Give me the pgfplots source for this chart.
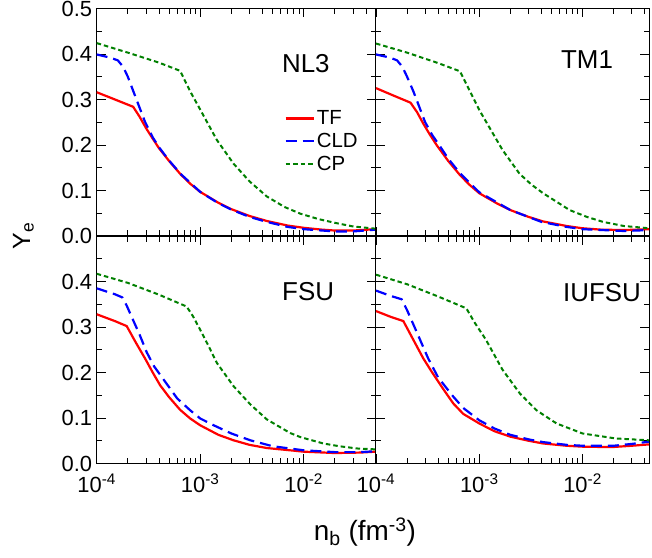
\documentclass[border=0pt]{standalone}
\usepackage{fontspec}
\setmainfont{Liberation Sans}
\usepackage{pgfplots}
\pgfplotsset{compat=1.18}

\definecolor{cpgreen}{RGB}{0,128,0}

\pgfplotsset{every axis/.append style={
    scale only axis, height=227.5bp, anchor=south west,
    xmode=log, xmin=1e-4,
    ymin=0, ymax=0.5,
    xtick={1e-4,1e-3,1e-2},
    minor xtick={2e-4,3e-4,4e-4,5e-4,6e-4,7e-4,8e-4,9e-4,2e-3,3e-3,4e-3,5e-3,6e-3,7e-3,8e-3,9e-3,2e-2,3e-2,4e-2},
    ytick={0,0.1,0.2,0.3,0.4,0.5},
    minor ytick={0.05,0.15,0.25,0.35,0.45},
    major tick length=9bp, minor tick length=5.5bp,
    tick style={black, line width=0.8bp},
    axis line style={line width=1bp},
    tick label style={font=\fontsize{22}{26}\selectfont},
    yticklabel style={xshift=-1bp},
    xticklabel style={yshift=-7bp},
  }}
\tikzset{
  tfline/.style={red, line width=2.2bp},
  cldline/.style={blue, line width=2.2bp, dash pattern=on 11bp off 6bp},
  cpline/.style={cpgreen, line width=2bp, dash pattern=on 4.5bp off 3bp},
  paneltag/.style={font=\fontsize{26}{30}\selectfont},
}

\begin{document}
\begin{tikzpicture}
\useasboundingbox (0,0) rectangle (652bp,558bp);

% NL3
\begin{axis}[at={(96.7bp,322bp)}, width=279.3bp, xmax=0.05, xticklabels={},
  yticklabels={0.0,0.1,0.2,0.3,0.4,0.5},
  legend style={at={(rel axis cs:0.672,0.56)}, anchor=north west, draw=none, fill=none,
    inner sep=0pt, row sep=3bp, font=\fontsize{20.5}{24}\selectfont},
  legend cell align=left,
  legend image code/.code={\draw[#1] (0bp,0bp) -- (28bp,0bp);}]
\addplot[tfline] coordinates {(1e-4,0.316) (1.5e-4,0.300) (2.25e-4,0.284) (2.6e-4,0.262) (3e-4,0.237) (3.5e-4,0.213) (4e-4,0.193) (5e-4,0.165) (6.5e-4,0.135) (8e-4,0.115) (1e-3,0.097) (1.5e-3,0.073) (2e-3,0.059) (3e-3,0.044) (4.4e-3,0.033) (7e-3,0.023) (1e-2,0.018) (1.5e-2,0.014) (2e-2,0.012) (3e-2,0.012) (5e-2,0.015)};
\addplot[cldline] coordinates {(1e-4,0.399) (1.35e-4,0.392) (1.6e-4,0.386) (1.8e-4,0.372) (2e-4,0.350) (2.45e-4,0.297) (2.93e-4,0.251) (3.5e-4,0.216) (4e-4,0.195) (5e-4,0.166) (6.5e-4,0.136) (1e-3,0.097) (1.5e-3,0.072) (2e-3,0.058) (3e-3,0.042) (4.4e-3,0.031) (7e-3,0.020) (1e-2,0.015) (2e-2,0.010) (3e-2,0.010) (5e-2,0.014)};
\addplot[cpline] coordinates {(1e-4,0.424) (2e-4,0.403) (4e-4,0.381) (6.4e-4,0.363) (8e-4,0.318) (1e-3,0.278) (1.45e-3,0.211) (2.1e-3,0.159) (3e-3,0.120) (4.4e-3,0.087) (6.5e-3,0.064) (9.3e-3,0.049) (1.4e-2,0.037) (2e-2,0.029) (3e-2,0.021) (5e-2,0.016)};
\legend{TF,CLD,CP}
\node[paneltag] at (rel axis cs:0.749,0.760) {NL3};
\end{axis}

% TM1
\begin{axis}[at={(376bp,322bp)}, width=273bp, xmax=0.044, xticklabels={}, yticklabels={}]
\addplot[tfline] coordinates {(1e-4,0.325) (1.5e-4,0.308) (2.16e-4,0.293) (2.5e-4,0.272) (2.87e-4,0.247) (3.3e-4,0.224) (3.86e-4,0.200) (5e-4,0.165) (6.5e-4,0.134) (8e-4,0.113) (1e-3,0.094) (1.5e-3,0.071) (2e-3,0.057) (3e-3,0.042) (4.15e-3,0.032) (7e-3,0.022) (1e-2,0.017) (1.5e-2,0.014) (2.5e-2,0.013) (4.4e-2,0.015)};
\addplot[cldline] coordinates {(1e-4,0.399) (1.37e-4,0.392) (1.6e-4,0.386) (1.8e-4,0.372) (2e-4,0.350) (2.3e-4,0.318) (2.98e-4,0.251) (3.5e-4,0.222) (4.2e-4,0.196) (5e-4,0.170) (6.5e-4,0.138) (1e-3,0.096) (2e-3,0.057) (4e-3,0.031) (7e-3,0.020) (1e-2,0.015) (2.5e-2,0.011) (4.4e-2,0.013)};
\addplot[cpline] coordinates {(1e-4,0.423) (2e-4,0.403) (4e-4,0.380) (6.5e-4,0.362) (8e-4,0.321) (1e-3,0.277) (1.2e-3,0.246) (1.68e-3,0.189) (2.45e-3,0.137) (3.2e-3,0.113) (4.15e-3,0.094) (7.5e-3,0.057) (1.1e-2,0.042) (1.58e-2,0.031) (2.5e-2,0.022) (4.4e-2,0.017)};
\node[paneltag] at (rel axis cs:0.773,0.774) {TM1};
\end{axis}

% FSU
\begin{axis}[at={(96.7bp,94.5bp)}, width=279.3bp, xmax=0.05,
  xticklabels={10\textsuperscript{-4},10\textsuperscript{-3},10\textsuperscript{-2}},
  yticklabels={0.0,0.1,0.2,0.3,0.4,{}}]
\addplot[tfline] coordinates {(1e-4,0.328) (1.5e-4,0.313) (1.95e-4,0.302) (2.4e-4,0.265) (2.93e-4,0.231) (3.5e-4,0.199) (4.1e-4,0.172) (5e-4,0.146) (6.4e-4,0.118) (8e-4,0.099) (1e-3,0.084) (1.5e-3,0.063) (2.1e-3,0.051) (3e-3,0.041) (4.4e-3,0.034) (7.4e-3,0.029) (1e-2,0.026) (2e-2,0.023) (3.5e-2,0.024) (5e-2,0.026)};
\addplot[cldline] coordinates {(1e-4,0.385) (1.5e-4,0.372) (1.77e-4,0.365) (1.95e-4,0.347) (2.2e-4,0.320) (2.6e-4,0.283) (3.05e-4,0.244) (3.6e-4,0.213) (4.75e-4,0.175) (6e-4,0.143) (8e-4,0.117) (1e-3,0.099) (1.35e-3,0.084) (2e-3,0.066) (3.05e-3,0.051) (5e-3,0.038) (1e-2,0.029) (2e-2,0.025) (3.5e-2,0.025) (5e-2,0.027)};
\addplot[cpline] coordinates {(1e-4,0.417) (2e-4,0.397) (4e-4,0.371) (7.4e-4,0.345) (8.5e-4,0.324) (1e-3,0.294) (1.2e-3,0.259) (1.45e-3,0.221) (2.1e-3,0.170) (3.05e-3,0.130) (4.4e-3,0.097) (7.4e-3,0.067) (9.3e-3,0.058) (1.55e-2,0.044) (2.2e-2,0.038) (3.3e-2,0.033) (5e-2,0.031)};
\node[paneltag] at (rel axis cs:0.757,0.754) {FSU};
\end{axis}

% IUFSU
\begin{axis}[at={(376bp,94.5bp)}, width=273bp, xmax=0.044, yticklabels={},
  xticklabels={10\textsuperscript{-4},10\textsuperscript{-3},10\textsuperscript{-2}}]
\addplot[tfline] coordinates {(1e-4,0.335) (1.4e-4,0.322) (1.84e-4,0.313) (2.2e-4,0.280) (2.87e-4,0.231) (3.5e-4,0.200) (4.5e-4,0.163) (5.6e-4,0.132) (7e-4,0.109) (1e-3,0.088) (1.4e-3,0.071) (2e-3,0.059) (3e-3,0.050) (4.15e-3,0.044) (7e-3,0.039) (1e-2,0.037) (1.9e-2,0.036) (3e-2,0.039) (4.4e-2,0.042)};
\addplot[cldline] coordinates {(1e-4,0.380) (1.4e-4,0.368) (1.77e-4,0.361) (2e-4,0.337) (2.5e-4,0.287) (3.2e-4,0.231) (4e-4,0.189) (5.6e-4,0.147) (7e-4,0.122) (1e-3,0.095) (1.4e-3,0.077) (2e-3,0.063) (3e-3,0.053) (4.15e-3,0.047) (7e-3,0.041) (1e-2,0.039) (2e-2,0.039) (3e-2,0.043) (4.4e-2,0.048)};
\addplot[cpline] coordinates {(1e-4,0.415) (2e-4,0.394) (4e-4,0.367) (7.5e-4,0.341) (9e-4,0.310) (1.16e-3,0.272) (1.68e-3,0.206) (2.47e-3,0.154) (3.58e-3,0.117) (5.6e-3,0.088) (1e-2,0.066) (2.1e-2,0.055) (4.4e-2,0.051)};
\node[paneltag] at (rel axis cs:0.828,0.750) {IUFSU};
\end{axis}

\node[rotate=90, anchor=base, font=\fontsize{25}{30}\selectfont] at (30bp,322bp) {Y\textsubscript{e}};
\node[anchor=base, font=\fontsize{28}{32}\selectfont] at (365bp,18bp) {n\textsubscript{b} (fm\textsuperscript{-3})};
\end{tikzpicture}
\end{document}
